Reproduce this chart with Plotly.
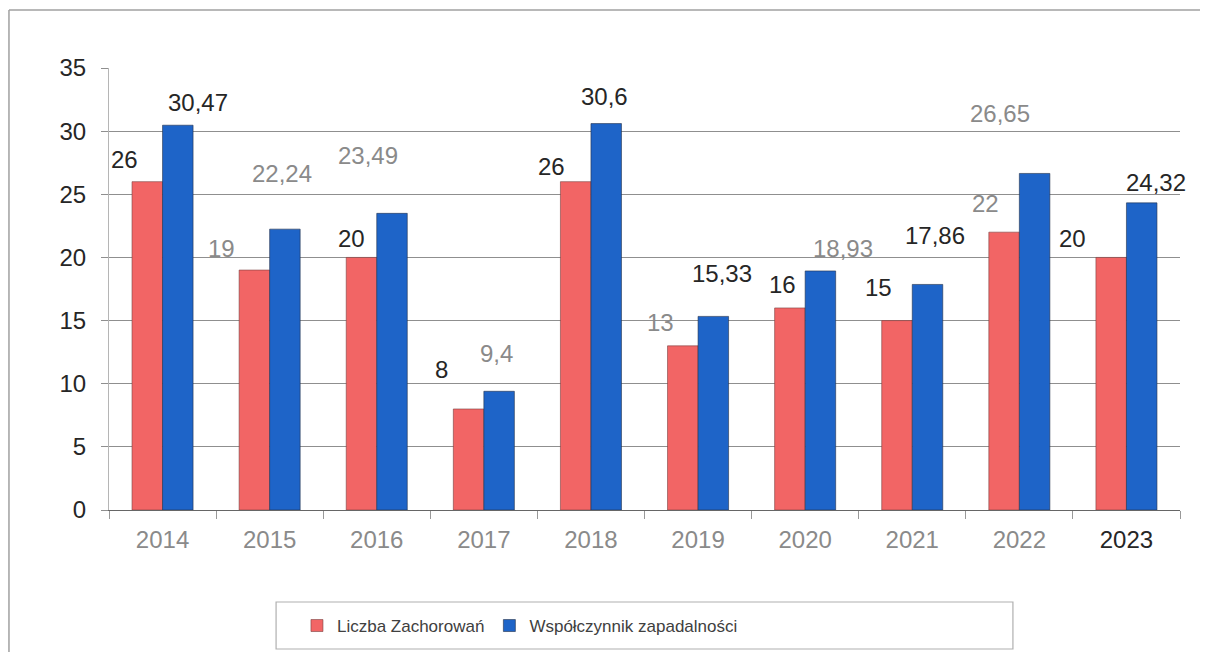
import plotly.graph_objects as go

years = ["2014", "2015", "2016", "2017", "2018", "2019", "2020", "2021", "2022", "2023"]
cases = [26, 19, 20, 8, 26, 13, 16, 15, 22, 20]
rate = [30.47, 22.24, 23.49, 9.4, 30.6, 15.33, 18.93, 17.86, 26.65, 24.32]
rate_text = ["30,47", "22,24", "23,49", "9,4", "30,6", "15,33", "18,93", "17,86", "26,65", "24,32"]
cases_text = [str(v) for v in cases]

BLACK = "#262626"
GREY = "#8a8a8a"
cases_label_colors = [BLACK, GREY, BLACK, BLACK, BLACK, GREY, BLACK, BLACK, GREY, BLACK]
rate_label_colors = [BLACK, GREY, GREY, GREY, BLACK, BLACK, GREY, BLACK, GREY, BLACK]

# label offsets (px) relative to the category centre / top of bar
cases_dx = [-38, -48, -25, -42, -39, -38, -23, -34, -34, -54]
cases_dy = [22, 22, 19, 39, 15, 23, 23, 33, 29, 19]
rate_dx = [35, 12, -9, 13, 14, 24, 38, 23, -19, 30]
rate_dy = [23, 56, 58, 38, 27, 43, 22, 49, 60, 20]

RED = "#F26565"
BLUE = "#1E64C8"

pos = list(range(len(years)))

fig = go.Figure()
fig.add_trace(go.Bar(x=pos, y=cases, name="Liczba Zachorowań",
                     marker=dict(color=RED, line=dict(color="#7a4040", width=0.6))))
fig.add_trace(go.Bar(x=pos, y=rate, name="Współczynnik zapadalności",
                     marker=dict(color=BLUE, line=dict(color="#23304a", width=0.6))))

FONT = "Liberation Sans, Arial, sans-serif"
annotations = []
for i in pos:
    annotations.append(dict(x=i, y=cases[i], xref="x", yref="y", text=cases_text[i],
                            showarrow=False, xshift=cases_dx[i], yshift=cases_dy[i],
                            font=dict(family=FONT, size=24, color=cases_label_colors[i])))
    annotations.append(dict(x=i, y=rate[i], xref="x", yref="y", text=rate_text[i],
                            showarrow=False, xshift=rate_dx[i], yshift=rate_dy[i],
                            font=dict(family=FONT, size=24, color=rate_label_colors[i])))

tick_text = [y if y != "2023" else "<span style='color:#262626'>2023</span>" for y in years]

shapes = [
    # outer chart border (left and top edges visible)
    dict(type="line", xref="paper", yref="paper", x0=-0.0934, x1=-0.0934, y0=1.131, y1=-0.36,
         line=dict(color="#a0a0a0", width=1.5)),
    dict(type="line", xref="paper", yref="paper", x0=-0.0934, x1=1.05, y0=1.131, y1=1.131,
         line=dict(color="#a0a0a0", width=1.5)),
    # legend box
    dict(type="rect", xref="paper", yref="paper", x0=0.156, x1=0.844, y0=-0.3145, y1=-0.2081,
         line=dict(color="#b0b0b0", width=1.2), fillcolor="rgba(0,0,0,0)"),
]

# page body has an 8px margin, so the figure is sized to fill the 1208x660 window
fig.update_layout(
    width=1192, height=644,
    margin=dict(l=101, r=20, t=60, b=142, autoexpand=False),
    paper_bgcolor="white", plot_bgcolor="white",
    barmode="group", bargap=0.43, bargroupgap=0,
    font=dict(family=FONT, size=24, color=BLACK),
    showlegend=True,
    legend=dict(orientation="h", x=0.1755, xanchor="left", y=-0.2624, yanchor="middle",
                font=dict(family=FONT, size=17, color="#404040"),
                bgcolor="rgba(0,0,0,0)", borderwidth=0, traceorder="normal"),
    annotations=annotations,
    shapes=shapes,
)
fig.update_xaxes(range=[-0.5, len(years) - 0.5], tickmode="array", tickvals=pos, ticktext=tick_text,
                 tickfont=dict(family=FONT, size=24, color=GREY),
                 showline=True, linecolor="#666666", linewidth=1.2,
                 ticks="", showgrid=False, zeroline=False, ticklabelstandoff=8,
                 minor=dict(tick0=-0.5, dtick=1, ticks="outside", ticklen=8,
                            tickcolor="#999999", showgrid=False))
fig.update_yaxes(range=[0, 35], dtick=5, tickfont=dict(family=FONT, size=24, color=BLACK),
                 showgrid=True, gridcolor="#8f8f8f", gridwidth=1,
                 showline=True, linecolor="#b5b5b5", linewidth=1,
                 ticks="outside", ticklen=7, tickcolor="#8f8f8f",
                 ticklabelstandoff=10, zeroline=False)

fig.write_html("out.html")
